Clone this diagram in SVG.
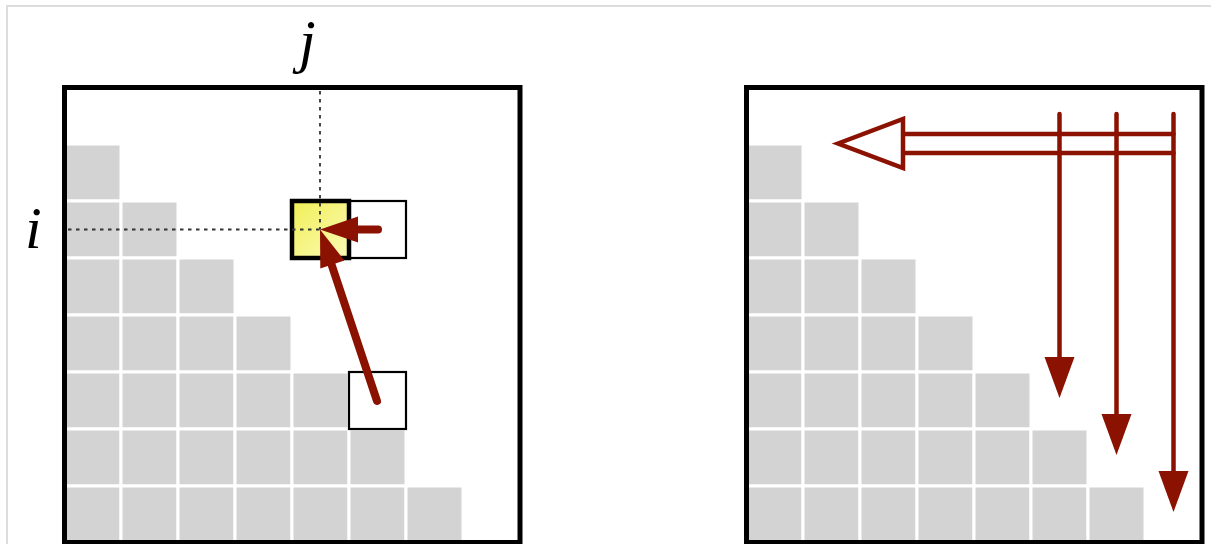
<svg xmlns="http://www.w3.org/2000/svg" width="1211" height="544" viewBox="0 0 1211 544">
<style>
.g{fill:#d3d3d3;stroke:#fff;stroke-width:3}
.frame{fill:none;stroke:#000;stroke-width:5}
.box{fill:none;stroke:#000;stroke-width:2.2}
.dot{fill:none;stroke:#333;stroke-width:1.8;stroke-dasharray:3.5 4.5}
.red{stroke:#8b1100;fill:none;stroke-linecap:round}
.head{fill:#8b1100}
.lbl{font-family:"Liberation Serif","DejaVu Serif",serif;font-style:italic;font-size:60px;fill:#000}
</style>
<defs>
<linearGradient id="yg" x1="0" y1="0" x2="1" y2="1">
<stop offset="0" stop-color="#f1ef55"/>
<stop offset="1" stop-color="#fbfab8"/>
</linearGradient>
<g id="stair">
<rect class="g" x="0" y="57" width="57" height="57"/>
<rect class="g" x="0" y="114" width="57" height="57"/><rect class="g" x="57" y="114" width="57" height="57"/>
<rect class="g" x="0" y="171" width="57" height="57"/><rect class="g" x="57" y="171" width="57" height="57"/><rect class="g" x="114" y="171" width="57" height="57"/>
<rect class="g" x="0" y="228" width="57" height="57"/><rect class="g" x="57" y="228" width="57" height="57"/><rect class="g" x="114" y="228" width="57" height="57"/><rect class="g" x="171" y="228" width="57" height="57"/>
<rect class="g" x="0" y="285" width="57" height="57"/><rect class="g" x="57" y="285" width="57" height="57"/><rect class="g" x="114" y="285" width="57" height="57"/><rect class="g" x="171" y="285" width="57" height="57"/><rect class="g" x="228" y="285" width="57" height="57"/>
<rect class="g" x="0" y="342" width="57" height="57"/><rect class="g" x="57" y="342" width="57" height="57"/><rect class="g" x="114" y="342" width="57" height="57"/><rect class="g" x="171" y="342" width="57" height="57"/><rect class="g" x="228" y="342" width="57" height="57"/><rect class="g" x="285" y="342" width="57" height="57"/>
<rect class="g" x="0" y="399" width="57" height="57"/><rect class="g" x="57" y="399" width="57" height="57"/><rect class="g" x="114" y="399" width="57" height="57"/><rect class="g" x="171" y="399" width="57" height="57"/><rect class="g" x="228" y="399" width="57" height="57"/><rect class="g" x="285" y="399" width="57" height="57"/><rect class="g" x="342" y="399" width="57" height="57"/>
</g>
</defs>
<rect x="0" y="0" width="1211" height="544" fill="#fff"/>
<rect x="7" y="6" width="1230" height="560" fill="none" stroke="#dcdcdc" stroke-width="2"/>

<g id="left-panel">
<use href="#stair" x="64" y="87"/>
<rect class="box" x="349" y="201" width="57" height="57"/>
<rect class="box" x="349" y="372" width="57" height="57"/>
<rect x="292" y="201" width="57" height="57" fill="url(#yg)" stroke="#000" stroke-width="4.5"/>
<line class="dot" x1="320" y1="91" x2="320" y2="229.5"/>
<line class="dot" x1="68" y1="229.5" x2="320" y2="229.5"/>
<rect class="frame" x="64.5" y="87.5" width="455.5" height="455"/>
</g>
<g id="label-j"><text class="lbl" x="299" y="61">j</text></g>
<g id="label-i"><text class="lbl" x="25" y="248">i</text></g>

<g id="right-panel">
<use href="#stair" x="746" y="87"/>
<rect class="frame" x="746.5" y="87.5" width="455.5" height="455"/>
</g>

<g id="connectors">
<line class="red" x1="378" y1="229.5" x2="350" y2="229.5" stroke-width="8"/>
<polygon class="head" points="320,229.5 358,216.5 358,242.5"/>
<line class="red" x1="377" y1="401" x2="331" y2="263" stroke-width="8"/>
<polygon class="head" points="320,229.5 344.4,260.4 320.3,268.4"/>

<line class="red" x1="903" y1="134" x2="1173.5" y2="134" stroke-width="4.5" stroke-linecap="butt"/>
<line class="red" x1="903" y1="153" x2="1173.5" y2="153" stroke-width="4.5" stroke-linecap="butt"/>
<polygon points="838,143.5 903,119 903,168" fill="#fff" stroke="#8b1100" stroke-width="4.5" stroke-linejoin="miter"/>
<line class="red" x1="1059.5" y1="114" x2="1059.5" y2="362" stroke-width="4.5"/>
<polygon class="head" points="1044.5,357 1074.5,357 1059.5,398"/>
<line class="red" x1="1116.5" y1="114" x2="1116.5" y2="420" stroke-width="4.5"/>
<polygon class="head" points="1101.5,414 1131.5,414 1116.5,455"/>
<line class="red" x1="1173.5" y1="114" x2="1173.5" y2="477" stroke-width="4.5"/>
<polygon class="head" points="1158.5,471 1188.5,471 1173.5,512"/>
</g>
</svg>
